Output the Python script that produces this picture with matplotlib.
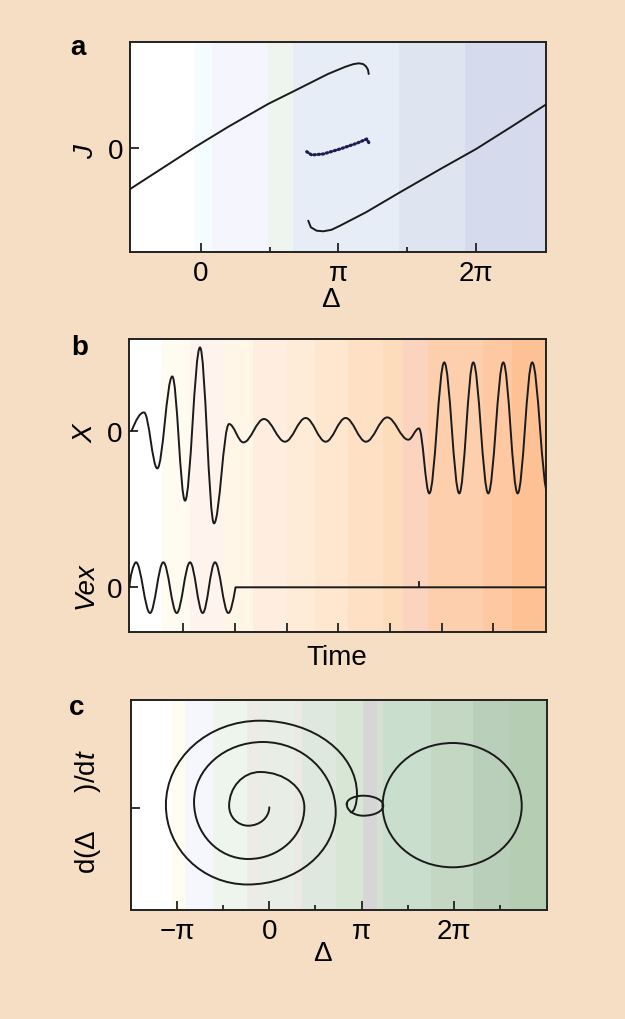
import numpy as np
import matplotlib
matplotlib.use("Agg")
import matplotlib.pyplot as plt
from matplotlib.path import Path
from matplotlib.patches import PathPatch

plt.rcParams['font.family'] = ['Liberation Sans', 'DejaVu Sans']
plt.rcParams['mathtext.fontset'] = 'custom'
plt.rcParams['mathtext.it'] = 'Liberation Sans:italic'
plt.rcParams['mathtext.rm'] = 'Liberation Sans'

PI = np.pi
FS = 20
INK = '#1a1a1a'
PEACH = '#f6dec5'

# ---------- Panel a data (Delta in units of pi, J) ----------
A_UPPER_D = [-0.52, -0.044, 0.2, 0.489, 0.683, 0.924, 1.05, 1.11, 1.15, 1.18, 1.2, 1.215, 1.22]
A_UPPER_J = [-4.14, 0.10, 2.15, 4.43, 5.76, 7.43, 8.15, 8.42, 8.50, 8.42, 8.20, 7.85, 7.43]
A_LOWER_D = [0.781, 0.80, 0.842, 0.89, 0.95, 1.012, 1.2, 1.447, 1.75, 2.0, 2.25, 2.52]
A_LOWER_J = [-7.24, -7.90, -8.24, -8.30, -8.15, -7.74, -6.40, -4.40, -2.00, -0.07, 2.10, 4.49]
A_MID_D = [0.77, 0.806, 0.89, 1.012, 1.133, 1.206, 1.23]
A_MID_J = [-0.34, -0.67, -0.57, -0.07, 0.50, 0.93, 0.33]
A_BAND_EDGES = [-0.6, -0.041, 0.08, 0.49, 0.67, 1.44, 1.92, 2.6]
A_BAND_COLORS = ['#ffffff', '#f4fcfd', '#f5f6fd', '#eef5ee', '#e6edf6', '#dee5f1', '#d5dbed']

# ---------- Panel b data (time, amplitude) ----------
B_X_T = [0.0, 0.24, 0.497, 0.787, 1.033, 1.323, 1.594, 1.884, 2.161, 2.561, 2.967,
         3.367, 3.754, 4.14, 4.533, 4.945, 5.352, 5.559, 5.758, 6.048, 6.338, 6.609,
         6.899, 7.19, 7.468, 7.75, 8.05]
B_X_V = [0.0, 1.83, -3.77, 5.43, -7.0, 8.33, -9.27, 0.67, -1.17, 1.17, -1.1,
         1.27, -1.1, 1.27, -1.1, 1.33, -0.9, 0.23, -6.27, 6.83, -6.27, 6.83,
         -6.27, 6.83, -6.27, 6.83, -6.27]
B_X_TAN = ['d'] + ['h'] * 26
B_VEX_T = [-0.04, 0.085, 0.356, 0.613, 0.872, 1.13, 1.375, 1.613, 1.87, 2.01, 8.1]
B_VEX_V = [0.0, 2.5, -2.57, 2.5, -2.57, 2.5, -2.57, 2.5, -2.57, 0.0, 0.0]
B_VEX_TAN = ['v', 'h', 'h', 'h', 'h', 'h', 'h', 'h', 'h', 'd', 'l']
B_MARK_T = 5.55
B_TICKS = [1, 2, 3, 4, 5, 6, 7]
X_OFFSET = 15.66
B_BAND_EDGES = [-0.2, 0.582, 1.13, 1.774, 2.342, 3.0, 3.547, 4.19, 4.857, 5.255,
                5.739, 6.803, 7.352, 8.2]
B_BAND_COLORS = ['#ffffff', '#fffbf1', '#fff3ee', '#fff6e8', '#ffeee0', '#ffecd8',
                 '#ffe7cf', '#fee1c5', '#fddcbc', '#fcd3bf', '#fdcfad', '#fdc8a2', '#fdc194']

# ---------- Panel c data (Delta in units of pi, dDelta/dt) ----------
C_SPIRAL_D = [0.0, -0.228, -0.435, -0.1, 0.38, -0.228, -0.815, -0.07, 0.72,
              -0.235, -1.12, -0.1, 0.95, 0.882]
C_SPIRAL_Y = [0.07, -1.77, 0.2, 3.6, 0.05, -5.1, 0.6, 6.6, -0.4,
              -7.65, 0.3, 8.73, 1.4, -0.43]
C_SPIRAL_TAN = ['v', 'h', 'v', 'h', 'v', 'h', 'v', 'h', 'v', 'h', 'v', 'h', 'v', 'h']
C_LOOP_D = [0.839, 1.018, 1.235, 1.018, 0.839]
C_LOOP_Y = [0.4, 1.23, 0.23, -0.77, 0.4]
C_CIRC_D = [1.228, 1.987, 2.735, 1.987, 1.228]
C_CIRC_Y = [0.23, 6.5, 0.23, -5.93, 0.23]
RING_TAN = ['v', 'h', 'v', 'h', 'v']
C_BAND_EDGES = [-1.6, -1.057, -0.913, -0.607, -0.236, -0.101, 0.278, 0.351, 0.723,
                1.018, 1.164, 1.235, 1.747, 2.21, 2.608, 3.1]
C_BAND_COLORS = ['#ffffff', '#fffdf2', '#f6f6fd', '#eef5ec', '#edebe5', '#e8eee5',
                 '#ece8e2', '#dfe8de', '#d7e6d5', '#d6d6d6', '#d5dfd2', '#cadecd',
                 '#c3d7c2', '#bacfb9', '#b5cdb3']


def smooth_path(xs, ys, tans, k):
    """Chain of cubic segments; 'h'/'v' = horizontal/vertical tangent at a point."""
    verts = [(xs[0], ys[0])]
    codes = [Path.MOVETO]
    for i in range(1, len(xs)):
        x0, y0, x1, y1 = xs[i - 1], ys[i - 1], xs[i], ys[i]
        if tans[i] == 'l':
            verts.append((x1, y1))
            codes.append(Path.LINETO)
            continue
        ta, tb = tans[i - 1], tans[i]
        if ta == 'h':
            p1 = (x0 + k * (x1 - x0), y0)
        elif ta == 'v':
            p1 = (x0, y0 + k * (y1 - y0))
        else:
            p1 = (x0 + k * (x1 - x0), y0 + k * (y1 - y0) * PI / 2)
        if tb == 'h':
            p2 = (x1 + k * (x0 - x1), y1)
        elif tb == 'v':
            p2 = (x1, y1 + k * (y0 - y1))
        else:
            p2 = (x1 - k * (x1 - x0), y1 - k * (y1 - y0) * PI / 2)
        verts += [p1, p2, (x1, y1)]
        codes += [Path.CURVE4] * 3
    return Path(verts, codes)


def add_curve(ax, path, lw=1.4):
    ax.add_patch(PathPatch(path, facecolor='none', edgecolor=INK, lw=lw,
                           capstyle='round', joinstyle='round', zorder=3))


def bands(ax, edges, colors, scale=1.0):
    for lo, hi, c in zip(edges[:-1], edges[1:], colors):
        ax.axvspan(lo * scale, hi * scale, color=c, lw=0, zorder=0)


def style_axes(ax):
    for s in ax.spines.values():
        s.set_linewidth(1.4)
        s.set_color('#222222')
    ax.tick_params(which='major', direction='in', length=6.5, width=1.3,
                   color='#222222', labelsize=FS, pad=6)
    ax.tick_params(which='minor', direction='in', length=3.8, width=1.3,
                   color='#222222')
    ax.tick_params(axis='y', pad=5)


fig = plt.figure(figsize=(6.25, 10.2), dpi=100)
fig.patch.set_facecolor(PEACH)

# ---------- a ----------
ax = fig.add_axes([130 / 625, 1 - 253 / 1020, 416 / 625, 210 / 1020])
bands(ax, A_BAND_EDGES, A_BAND_COLORS, PI)
ax.plot(np.array(A_UPPER_D) * PI, A_UPPER_J, color=INK, lw=1.4, zorder=3,
        solid_capstyle='round', solid_joinstyle='round')
ax.plot(np.array(A_LOWER_D) * PI, A_LOWER_J, color=INK, lw=1.4, zorder=3,
        solid_capstyle='round', solid_joinstyle='round')
ax.plot(np.array(A_MID_D) * PI, A_MID_J, color='#1d1d52', lw=2.3, zorder=3,
        linestyle=(0, (0.4, 0.9)), dash_capstyle='round')
ax.set_xlim(-0.5134 * PI, 2.5076 * PI)
ax.set_ylim(-10.37, 10.63)
ax.set_xticks([0, PI, 2 * PI], ['0', 'π', '2π'])
ax.set_xticks([PI / 2, 1.5 * PI], minor=True)
ax.set_yticks([0], ['0'])
style_axes(ax)

# ---------- b ----------
ax = fig.add_axes([129.3 / 625, 1 - 632.7 / 1020, 416.4 / 625, 292.7 / 1020])
bands(ax, B_BAND_EDGES, B_BAND_COLORS)
add_curve(ax, smooth_path(B_X_T, np.array(B_X_V) + X_OFFSET, B_X_TAN, 0.363))
add_curve(ax, smooth_path(B_VEX_T, B_VEX_V, B_VEX_TAN, 0.363))
ax.plot([B_MARK_T, B_MARK_T], [0, 0.5], color=INK, lw=1.3, zorder=3)
ax.set_xlim(-0.045, 8.01)
ax.set_ylim(-4.44, 24.83)
ax.set_xticks(B_TICKS, [''] * len(B_TICKS))
ax.set_yticks([0, X_OFFSET], ['0', '0'])
style_axes(ax)

# ---------- c ----------
ax = fig.add_axes([131 / 625, 1 - 911 / 1020, 416.3 / 625, 210 / 1020])
bands(ax, C_BAND_EDGES, C_BAND_COLORS, PI)
add_curve(ax, smooth_path(np.array(C_SPIRAL_D) * PI, C_SPIRAL_Y, C_SPIRAL_TAN, 0.5523))
add_curve(ax, smooth_path(np.array(C_LOOP_D) * PI, C_LOOP_Y, RING_TAN, 0.5523))
add_curve(ax, smooth_path(np.array(C_CIRC_D) * PI, C_CIRC_Y, RING_TAN, 0.5523))
ax.set_xlim(-1.498 * PI, 3.012 * PI)
ax.set_ylim(-10.2, 10.8)
ax.set_xticks([-PI, 0, PI, 2 * PI], ['−π', '0', 'π', '2π'])
ax.set_xticks([-PI / 2, PI / 2, 1.5 * PI, 2.5 * PI], minor=True)
ax.set_yticks([0], [''])
style_axes(ax)

# ---------- labels ----------
def ftext(x, y, s, **kw):
    fig.text(x / 625, 1 - y / 1020, s, ha='center', va='center', **kw)

ftext(78, 48, 'a', fontsize=FS, fontweight='bold')
ftext(80, 348, 'b', fontsize=FS, fontweight='bold')
ftext(77, 708, 'c', fontsize=FS, fontweight='bold')
ftext(86, 152, 'J', fontsize=FS, style='italic', rotation=90)
ftext(86, 434, 'X', fontsize=FS, style='italic', rotation=90)
ftext(86, 586, 'Vex', fontsize=FS, style='italic', rotation=90)
ftext(88, 812, 'd(Δ     )/d$t$', fontsize=FS, rotation=90)
ftext(330, 300, 'Δ', fontsize=FS)
ftext(337, 658, 'Time', fontsize=FS)
ftext(322, 954, 'Δ', fontsize=FS)

fig.savefig('out.png', dpi=100, facecolor=PEACH)
